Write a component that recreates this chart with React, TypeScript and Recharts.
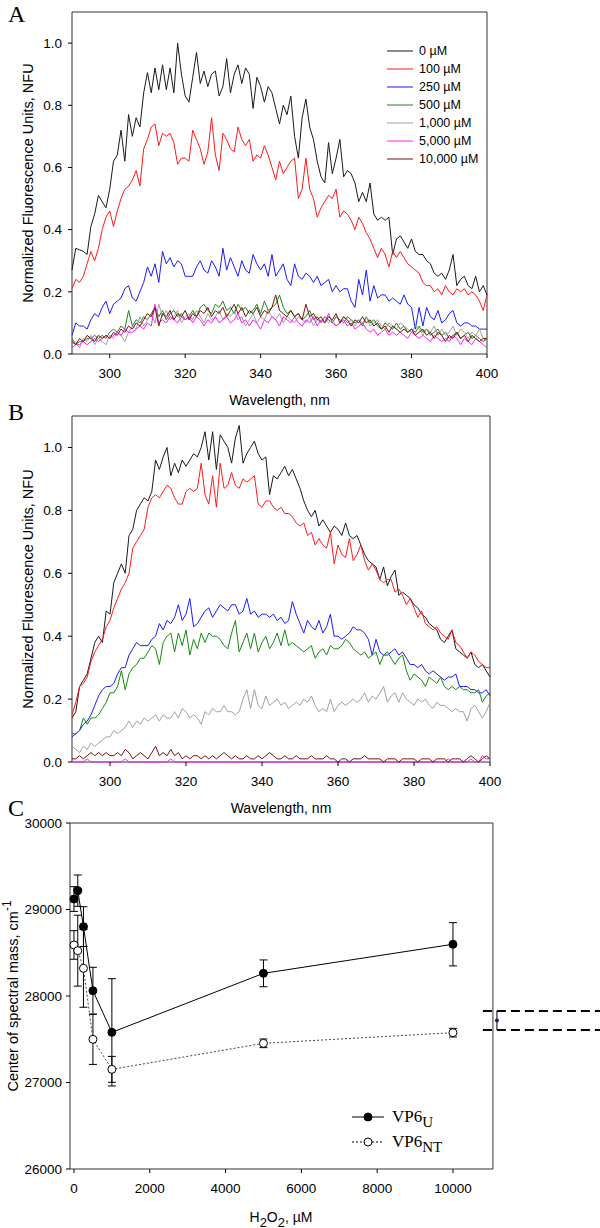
import React from "react";
import {
  ComposedChart,
  ErrorBar,
  Label,
  Legend,
  Line,
  LineChart,
  ReferenceArea,
  ReferenceLine,
  XAxis,
  YAxis,
} from "recharts";

const FONT = "'Liberation Sans', Arial, sans-serif";
const SERIF = "'Liberation Serif', 'Times New Roman', serif";

// wavelength grid, 1 nm steps
const wavelengths = Array.from({ length: 111 }, (_, i) => 290 + i);

const concLabels = ["0 µM", "100 µM", "250 µM", "500 µM", "1,000 µM", "5,000 µM", "10,000 µM"];
const concColors = ["#1a1a1a", "#ff1a1a", "#1a1aff", "#128a12", "#a0a0a0", "#ff1aff", "#7a1010"];

// Panel A spectra (NFU)
const a0 = [
  0.27, 0.34, 0.335, 0.33, 0.32, 0.41, 0.45, 0.51, 0.49, 0.47,
  0.53, 0.62, 0.64, 0.72, 0.62, 0.77, 0.7, 0.76, 0.73, 0.84,
  0.905, 0.84, 0.92, 0.85, 0.93, 0.85, 0.92, 0.84, 1.0, 0.9,
  0.83, 0.81, 0.89, 0.97, 0.87, 0.91, 0.86, 0.9, 0.91, 0.83,
  0.86, 0.95, 0.84, 0.9, 0.93, 0.87, 0.92, 0.9, 0.79, 0.89,
  0.86, 0.81, 0.86, 0.84, 0.79, 0.74, 0.8, 0.77, 0.83, 0.7,
  0.63, 0.76, 0.82, 0.73, 0.69, 0.62, 0.57, 0.55, 0.68, 0.58,
  0.63, 0.69, 0.57, 0.59, 0.58, 0.55, 0.49, 0.52, 0.49, 0.55,
  0.45, 0.43, 0.44, 0.43, 0.44, 0.32, 0.37, 0.38, 0.36, 0.34,
  0.37, 0.33, 0.32, 0.32, 0.3, 0.29, 0.26, 0.25, 0.26, 0.24,
  0.27, 0.32, 0.22, 0.24, 0.25, 0.22, 0.21, 0.25, 0.2, 0.22,
  0.19,
];
const a1 = [
  0.21, 0.24, 0.23, 0.25, 0.29, 0.33, 0.3, 0.34, 0.4, 0.44,
  0.46, 0.41, 0.46, 0.5, 0.53, 0.54, 0.56, 0.59, 0.54, 0.66,
  0.69, 0.73, 0.74, 0.67, 0.71, 0.7, 0.71, 0.68, 0.61, 0.63,
  0.63, 0.62, 0.72, 0.69, 0.66, 0.61, 0.65, 0.76, 0.64, 0.59,
  0.71, 0.69, 0.66, 0.65, 0.73, 0.69, 0.67, 0.69, 0.62, 0.64,
  0.63, 0.67, 0.64, 0.6, 0.56, 0.62, 0.58, 0.6, 0.62, 0.63,
  0.5, 0.53, 0.63, 0.53, 0.5, 0.44, 0.47, 0.49, 0.51, 0.5,
  0.53, 0.44, 0.46, 0.45, 0.43, 0.4, 0.44, 0.42, 0.39, 0.37,
  0.34, 0.31, 0.34, 0.32, 0.28, 0.33, 0.31, 0.33, 0.31, 0.29,
  0.28, 0.27, 0.26, 0.23, 0.22, 0.22, 0.2, 0.21, 0.19, 0.22,
  0.2, 0.19, 0.21, 0.2, 0.21, 0.19, 0.2, 0.19, 0.17, 0.14,
  0.19,
];
const a2 = [
  0.06, 0.1, 0.09, 0.09, 0.08, 0.11, 0.13, 0.12, 0.15, 0.17,
  0.13, 0.16, 0.17, 0.18, 0.21, 0.22, 0.18, 0.17, 0.2, 0.23,
  0.28, 0.25, 0.29, 0.23, 0.33, 0.29, 0.31, 0.28, 0.3, 0.29,
  0.25, 0.25, 0.25, 0.28, 0.3, 0.27, 0.26, 0.3, 0.28, 0.25,
  0.34, 0.27, 0.31, 0.28, 0.25, 0.3, 0.27, 0.26, 0.32, 0.29,
  0.27, 0.29, 0.25, 0.32, 0.25, 0.27, 0.29, 0.24, 0.22, 0.29,
  0.25, 0.24, 0.26, 0.25, 0.23, 0.25, 0.22, 0.23, 0.24, 0.2,
  0.22, 0.2, 0.21, 0.21, 0.17, 0.15, 0.24, 0.19, 0.27, 0.17,
  0.22, 0.18, 0.19, 0.19, 0.17, 0.18, 0.17, 0.16, 0.19, 0.16,
  0.15, 0.08, 0.15, 0.09, 0.15, 0.12, 0.11, 0.14, 0.1, 0.11,
  0.13, 0.14, 0.1, 0.09, 0.1, 0.1, 0.09, 0.09, 0.08, 0.08,
  0.08,
];
const a3 = [
  0.05, 0.03, 0.04, 0.04, 0.05, 0.05, 0.06, 0.05, 0.06, 0.05,
  0.07, 0.08, 0.07, 0.09, 0.08, 0.14, 0.09, 0.11, 0.1, 0.12,
  0.11, 0.13, 0.15, 0.12, 0.14, 0.11, 0.13, 0.14, 0.12, 0.13,
  0.11, 0.12, 0.14, 0.12, 0.15, 0.16, 0.14, 0.13, 0.16, 0.15,
  0.17, 0.14, 0.15, 0.13, 0.16, 0.14, 0.15, 0.13, 0.14, 0.16,
  0.13, 0.17, 0.14, 0.15, 0.16, 0.19, 0.15, 0.13, 0.14, 0.12,
  0.13, 0.11, 0.12, 0.14, 0.11, 0.12, 0.1, 0.12, 0.11, 0.1,
  0.12, 0.11, 0.1, 0.12, 0.11, 0.1, 0.11, 0.09, 0.12, 0.1,
  0.11, 0.09, 0.08, 0.1, 0.09, 0.08, 0.1, 0.08, 0.09, 0.07,
  0.08, 0.07, 0.09, 0.07, 0.08, 0.06, 0.07, 0.08, 0.06, 0.07,
  0.05, 0.06, 0.07, 0.05, 0.06, 0.07, 0.05, 0.06, 0.05, 0.04,
  0.05,
];
const a4 = [
  0.03, 0.04, 0.02, 0.05, 0.04, 0.06, 0.03, 0.05, 0.04, 0.03,
  0.06, 0.05, 0.07, 0.06, 0.04, 0.07, 0.09, 0.08, 0.12, 0.09,
  0.11, 0.13, 0.1, 0.16, 0.12, 0.14, 0.11, 0.12, 0.14, 0.1,
  0.12, 0.13, 0.11, 0.14, 0.12, 0.1, 0.13, 0.11, 0.12, 0.14,
  0.11, 0.13, 0.12, 0.14, 0.11, 0.12, 0.09, 0.11, 0.13, 0.1,
  0.12, 0.11, 0.14, 0.12, 0.11, 0.13, 0.1, 0.12, 0.11, 0.1,
  0.12, 0.11, 0.1, 0.12, 0.09, 0.11, 0.1, 0.12, 0.1, 0.11,
  0.09, 0.1, 0.12, 0.1, 0.11, 0.09, 0.11, 0.1, 0.12, 0.09,
  0.1, 0.11, 0.09, 0.08, 0.1, 0.09, 0.08, 0.1, 0.09, 0.08,
  0.07, 0.09, 0.08, 0.06, 0.08, 0.07, 0.09, 0.06, 0.08, 0.06,
  0.07, 0.09, 0.06, 0.08, 0.07, 0.05, 0.07, 0.06, 0.08, 0.05,
  0.04,
];
const a5 = [
  0.02, 0.03, 0.03, 0.04, 0.03, 0.04, 0.05, 0.04, 0.05, 0.06,
  0.05, 0.06, 0.07, 0.06, 0.08, 0.07, 0.07, 0.08, 0.09, 0.08,
  0.1, 0.09, 0.16, 0.1, 0.11, 0.1, 0.12, 0.11, 0.1, 0.12,
  0.11, 0.12, 0.1, 0.12, 0.11, 0.09, 0.11, 0.1, 0.12, 0.1,
  0.11, 0.12, 0.1, 0.11, 0.13, 0.1, 0.11, 0.09, 0.11, 0.1,
  0.08, 0.11, 0.1, 0.12, 0.11, 0.09, 0.12, 0.11, 0.1, 0.12,
  0.1, 0.09, 0.11, 0.1, 0.12, 0.09, 0.11, 0.1, 0.13, 0.1,
  0.09, 0.1, 0.11, 0.09, 0.1, 0.08, 0.09, 0.1, 0.08, 0.07,
  0.08, 0.06, 0.07, 0.08, 0.06, 0.07, 0.06, 0.07, 0.06, 0.05,
  0.07, 0.06, 0.05, 0.06, 0.05, 0.04, 0.06, 0.05, 0.04, 0.05,
  0.04, 0.06, 0.05, 0.03, 0.05, 0.04, 0.03, 0.05, 0.04, 0.03,
  0.02,
];
const a6 = [
  0.04, 0.03, 0.05, 0.04, 0.06, 0.05, 0.04, 0.06, 0.05, 0.06,
  0.05, 0.07, 0.06, 0.08, 0.07, 0.09, 0.08, 0.1, 0.09, 0.11,
  0.13, 0.12, 0.15, 0.09, 0.13, 0.12, 0.14, 0.11, 0.13, 0.12,
  0.14, 0.11, 0.13, 0.12, 0.14, 0.13, 0.15, 0.12, 0.14, 0.13,
  0.15, 0.12, 0.14, 0.16, 0.13, 0.15, 0.12, 0.14, 0.13, 0.15,
  0.12, 0.14, 0.13, 0.15, 0.19, 0.14, 0.13, 0.12, 0.14, 0.12,
  0.13, 0.11, 0.16, 0.12, 0.13, 0.11, 0.12, 0.1, 0.12, 0.11,
  0.13, 0.1, 0.12, 0.11, 0.09, 0.11, 0.1, 0.12, 0.1, 0.11,
  0.09, 0.1, 0.08, 0.09, 0.07, 0.09, 0.08, 0.07, 0.08, 0.07,
  0.08, 0.06, 0.07, 0.08, 0.06, 0.07, 0.05, 0.07, 0.06, 0.04,
  0.06, 0.05, 0.07, 0.05, 0.06, 0.04, 0.06, 0.05, 0.04, 0.05,
  0.05,
];

// Panel B spectra (NFU)
const b0 = [
  0.14, 0.16, 0.24, 0.26, 0.28, 0.33, 0.38, 0.4, 0.38, 0.48,
  0.47, 0.57, 0.6, 0.63, 0.6, 0.72, 0.74, 0.8, 0.82, 0.84,
  0.83, 0.86, 0.96, 0.93, 0.97, 1.0, 0.91, 0.95, 0.92, 0.96,
  0.94, 0.96, 0.98, 0.97, 1.0, 1.05, 0.96, 1.05, 0.93, 1.04,
  1.02, 1.0, 0.95, 1.03, 1.07, 0.95, 0.98, 1.0, 1.02, 0.98,
  0.96, 0.97, 0.85, 0.91, 0.9, 0.92, 0.94, 0.91, 0.93, 0.9,
  0.87, 0.83, 0.8, 0.78, 0.8, 0.75, 0.77, 0.75, 0.73, 0.75,
  0.74, 0.72, 0.76, 0.72, 0.71, 0.72, 0.69, 0.66, 0.64, 0.63,
  0.62, 0.58, 0.62, 0.56, 0.59, 0.61, 0.53, 0.54, 0.53, 0.52,
  0.5, 0.49, 0.47, 0.46, 0.44, 0.43, 0.42, 0.39, 0.38, 0.4,
  0.42, 0.36, 0.35, 0.34, 0.33, 0.35, 0.31, 0.3, 0.31, 0.29,
  0.27,
];
const b1 = [
  0.15, 0.19, 0.24, 0.25, 0.27, 0.32, 0.35, 0.37, 0.39, 0.43,
  0.45, 0.49, 0.52, 0.55, 0.57, 0.6, 0.68, 0.7, 0.72, 0.74,
  0.81, 0.84, 0.85, 0.84, 0.86, 0.88, 0.87, 0.84, 0.82, 0.82,
  0.86, 0.87, 0.86, 0.87, 0.95, 0.85, 0.82, 0.91, 0.81, 0.95,
  0.87, 0.88, 0.92, 0.88, 0.87, 0.9, 0.89, 0.9, 0.91, 0.82,
  0.81, 0.83, 0.83, 0.81, 0.8, 0.81, 0.79, 0.79, 0.78, 0.76,
  0.75, 0.76, 0.72, 0.73, 0.69, 0.71, 0.69, 0.68, 0.73, 0.63,
  0.69, 0.66, 0.65, 0.71, 0.64, 0.66, 0.69, 0.64, 0.61, 0.63,
  0.61, 0.58, 0.57, 0.58, 0.58, 0.54, 0.55, 0.53, 0.5, 0.52,
  0.49, 0.46, 0.48, 0.44, 0.43, 0.42, 0.43, 0.41, 0.4, 0.39,
  0.42, 0.38, 0.37, 0.35, 0.33, 0.35, 0.34, 0.32, 0.31, 0.3,
  0.3,
];
const b2 = [
  0.08, 0.09, 0.1, 0.12, 0.13, 0.15, 0.18, 0.21, 0.23, 0.24,
  0.24, 0.25, 0.28, 0.3, 0.3, 0.34, 0.36, 0.38, 0.37, 0.37,
  0.37, 0.39, 0.4, 0.44, 0.42, 0.45, 0.44, 0.46, 0.5, 0.45,
  0.47, 0.52, 0.43, 0.44, 0.46, 0.48, 0.49, 0.46, 0.48, 0.5,
  0.49, 0.48, 0.5, 0.5, 0.47, 0.48, 0.52, 0.47, 0.48, 0.46,
  0.47, 0.47, 0.46, 0.47, 0.45, 0.46, 0.44, 0.45, 0.51, 0.47,
  0.44, 0.41, 0.45, 0.43, 0.42, 0.45, 0.41, 0.43, 0.47, 0.4,
  0.4, 0.39, 0.4, 0.41, 0.43, 0.42, 0.42, 0.41, 0.39, 0.34,
  0.39, 0.35, 0.34, 0.34, 0.35, 0.36, 0.34, 0.35, 0.33, 0.31,
  0.31, 0.3, 0.31, 0.29, 0.28, 0.29, 0.28, 0.27, 0.26, 0.27,
  0.27, 0.28, 0.24, 0.24, 0.24, 0.23, 0.23, 0.22, 0.22, 0.23,
  0.21,
];
const b3 = [
  0.09, 0.09, 0.1, 0.14, 0.12, 0.14, 0.14, 0.15, 0.17, 0.19,
  0.22, 0.22, 0.24, 0.29, 0.23, 0.28, 0.3, 0.31, 0.33, 0.33,
  0.35, 0.37, 0.36, 0.31, 0.38, 0.4, 0.41, 0.35, 0.41, 0.37,
  0.42, 0.34, 0.39, 0.36, 0.41, 0.38, 0.41, 0.4, 0.4, 0.39,
  0.37, 0.36, 0.41, 0.45, 0.35, 0.38, 0.41, 0.36, 0.41, 0.35,
  0.38, 0.4, 0.36, 0.38, 0.41, 0.37, 0.42, 0.37, 0.38, 0.37,
  0.36, 0.35, 0.36, 0.37, 0.33, 0.35, 0.36, 0.34, 0.37, 0.36,
  0.36, 0.37, 0.39, 0.38, 0.36, 0.35, 0.34, 0.35, 0.33, 0.34,
  0.35, 0.31, 0.34, 0.35, 0.33, 0.31, 0.33, 0.34, 0.29, 0.26,
  0.28, 0.27, 0.26, 0.24, 0.27, 0.26, 0.25, 0.27, 0.24, 0.23,
  0.24, 0.23, 0.24, 0.23, 0.23, 0.22, 0.22, 0.23, 0.19, 0.21,
  0.22,
];
const b4 = [
  0.05, 0.04, 0.03, 0.05, 0.04, 0.06, 0.05, 0.06, 0.07, 0.08,
  0.08, 0.1, 0.09, 0.1, 0.11, 0.13, 0.11, 0.13, 0.12, 0.14,
  0.13, 0.14, 0.15, 0.13, 0.15, 0.14, 0.14, 0.16, 0.14, 0.17,
  0.16, 0.14, 0.15, 0.14, 0.12, 0.16, 0.15, 0.17, 0.16, 0.16,
  0.18, 0.16, 0.16, 0.15, 0.16, 0.2, 0.23, 0.17, 0.23, 0.18,
  0.17, 0.21, 0.18, 0.19, 0.2, 0.18, 0.19, 0.17, 0.18, 0.19,
  0.18, 0.2, 0.19, 0.21, 0.18, 0.16, 0.17, 0.16, 0.2, 0.16,
  0.18, 0.19, 0.18, 0.19, 0.2, 0.19, 0.2, 0.22, 0.19, 0.21,
  0.2, 0.22, 0.24, 0.19, 0.21, 0.22, 0.19, 0.22, 0.2, 0.19,
  0.18, 0.2, 0.19, 0.2, 0.18, 0.17, 0.19, 0.18, 0.18, 0.17,
  0.16, 0.17, 0.16, 0.16, 0.13, 0.17, 0.18, 0.16, 0.14, 0.16,
  0.19,
];
const b5 = [
  0, 0, 0, 0, 0.01, 0, 0, 0, 0, 0,
  0, 0, 0, 0, 0.01, 0, 0, 0, 0, 0,
  0, 0, 0, 0, 0, 0, 0.01, 0, 0, 0,
  0, 0, 0, 0, 0, 0, 0, 0, 0, 0,
  0, 0, 0, 0, 0, 0, 0, 0, 0, 0,
  0, 0, 0, 0, 0, 0, 0, 0, 0, 0,
  0, 0, 0, 0, 0, 0, 0, 0, 0, 0,
  0, 0, 0, 0, 0, 0, 0, 0, 0, 0,
  0, 0, 0, 0, 0, 0, 0, 0, 0, 0,
  0, 0, 0, 0, 0, 0, 0, 0, 0, 0.01,
  0, 0, 0, 0, 0, 0.01, 0, 0, 0.02, 0.01,
  0.01,
];
const b6 = [
  0.01, 0.01, 0.02, 0.01, 0.02, 0.03, 0.02, 0.03, 0.02, 0.03,
  0.02, 0.02, 0.03, 0.02, 0.04, 0.03, 0.01, 0.02, 0.03, 0.02,
  0.01, 0.03, 0.05, 0.02, 0.03, 0.02, 0.04, 0.02, 0.03, 0.01,
  0.02, 0.01, 0.02, 0.02, 0.01, 0.02, 0.01, 0.02, 0.01, 0.02,
  0.03, 0.02, 0.01, 0.02, 0.01, 0.01, 0.02, 0.01, 0.01, 0.02,
  0.01, 0.02, 0.03, 0.02, 0.01, 0.01, 0.02, 0.01, 0.01, 0.02,
  0.01, 0.01, 0.01, 0.02, 0.01, 0.01, 0.01, 0.02, 0.01, 0.01,
  0, 0.01, 0.01, 0, 0.01, 0.01, 0.01, 0.02, 0.01, 0.01,
  0.01, 0.01, 0, 0.01, 0.01, 0.01, 0, 0.01, 0.01, 0.01,
  0.01, 0, 0.01, 0.01, 0.01, 0, 0.01, 0.01, 0.01, 0,
  0.01, 0.01, 0.01, 0, 0.01, 0.02, 0.01, 0, 0.01, 0.02,
  0.01,
];

const seriesA = [a0, a1, a2, a3, a4, a5, a6];
const seriesB = [b0, b1, b2, b3, b4, b5, b6];

const dataA = wavelengths.map((wl, i) => {
  const row: Record<string, number> = { wl };
  seriesA.forEach((s, k) => (row["c" + k] = s[i]));
  return row;
});
const dataB = wavelengths.map((wl, i) => {
  const row: Record<string, number> = { wl };
  seriesB.forEach((s, k) => (row["c" + k] = s[i]));
  return row;
});

// Panel C: center of spectral mass vs H2O2
const h2o2 = [0, 100, 250, 500, 1000, 5000, 10000];
const vp6uMean = [29121, 29218, 28802, 28061, 27580, 28262, 28598];
const vp6uErr = [143, 181, 230, 271, 620, 155, 250];
const vp6ntMean = [28590, 28524, 28320, 27499, 27152, 27453, 27576];
const vp6ntErr = [165, 410, 450, 290, 150, 50, 50];
const refX = [11160];
const refMean = [27717];
const refErr = [110];

const uData = h2o2.map((x, i) => ({ x, y: vp6uMean[i], err: vp6uErr[i] }));
const ntData = h2o2.map((x, i) => ({ x, y: vp6ntMean[i], err: vp6ntErr[i] }));
const refData = refX.map((x, i) => ({ x, y: refMean[i], err: refErr[i] }));

const tickStyle = { fontSize: 13.5, fill: "#000", fontFamily: FONT };

const yTitle = (text: string, dx: number) => (props: any) => {
  const vb = props.viewBox || {};
  const cx = (vb.x || 0) + dx;
  const cy = (vb.y || 0) + (vb.height || 0) / 2;
  return (
    <text
      x={cx}
      y={cy}
      transform={`rotate(-90 ${cx} ${cy})`}
      textAnchor="middle"
      dominantBaseline="central"
      fontFamily={FONT}
      fontSize={14.5}
      fill="#000"
    >
      {text}
    </text>
  );
};

const xTitle = (text: string, dy: number) => (props: any) => {
  const vb = props.viewBox || {};
  const cx = (vb.x || 0) + (vb.width || 0) / 2;
  const cy = (vb.y || 0) + dy;
  return (
    <text x={cx} y={cy} textAnchor="middle" dominantBaseline="central" fontFamily={FONT} fontSize={14} fill="#000">
      {text}
    </text>
  );
};

const LegendA = () => (
  <div style={{ fontFamily: FONT, fontSize: 12.5, color: "#000" }}>
    {concLabels.map((l, i) => (
      <div key={l} style={{ display: "flex", alignItems: "center", height: 18 }}>
        <svg width={26} height={4}>
          <line x1={0} y1={2} x2={26} y2={2} stroke={concColors[i]} strokeWidth={1} />
        </svg>
        <span style={{ marginLeft: 6, whiteSpace: "nowrap" }}>{l}</span>
      </div>
    ))}
  </div>
);

const LegendC = () => {
  const rows = [
    { sub: "U", dash: undefined, fill: "#000" },
    { sub: "NT", dash: "2 2", fill: "#fff" },
  ];
  return (
    <div style={{ fontFamily: SERIF, fontSize: 17, color: "#000" }}>
      {rows.map((r) => (
        <div key={r.sub} style={{ display: "flex", alignItems: "center", height: 25 }}>
          <svg width={32} height={12}>
            <line x1={0} y1={6} x2={32} y2={6} stroke="#000" strokeDasharray={r.dash} />
            <circle cx={16} cy={6} r={4} fill={r.fill} stroke="#000" />
          </svg>
          <span style={{ marginLeft: 8, whiteSpace: "nowrap" }}>
            VP6
            <span style={{ fontSize: 15, position: "relative", top: 5 }}>{r.sub}</span>
          </span>
        </div>
      ))}
    </div>
  );
};

const SpectraPanel = ({ data, marginRight, xAxisHeight, legend }: any) => (
  <LineChart
    width={600}
    height={420}
    data={data}
    margin={{ top: 12, right: marginRight, left: 0, bottom: 10 }}
  >
    <XAxis
      type="number"
      dataKey="wl"
      domain={[290, 400]}
      ticks={[300, 320, 340, 360, 380, 400]}
      axisLine={false}
      tickLine={{ stroke: "#000" }}
      tickSize={4}
      tickMargin={10}
      tick={tickStyle}
      height={xAxisHeight}
    >
      <Label content={xTitle("Wavelength, nm", 46)} />
    </XAxis>
    <YAxis
      type="number"
      domain={[0, 1.1]}
      ticks={[0, 0.2, 0.4, 0.6, 0.8, 1.0]}
      tickFormatter={(v: number) => v.toFixed(1)}
      axisLine={false}
      tickLine={{ stroke: "#000" }}
      tickSize={4}
      tickMargin={6}
      tick={tickStyle}
      width={72}
    >
      <Label content={yTitle("Normalized Fluorescence Units, NFU", 28)} />
    </YAxis>
    <ReferenceArea x1={290} x2={400} y1={0} y2={1.1} fill="none" stroke="#333" strokeWidth={1} />
    {concLabels.map((l, k) => (
      <Line
        key={l}
        dataKey={"c" + k}
        name={l}
        stroke={concColors[k]}
        strokeWidth={1}
        dot={false}
        activeDot={false}
        isAnimationActive={false}
      />
    ))}
    {legend && (
      <Legend
        layout="vertical"
        align="center"
        verticalAlign="middle"
        content={() => <LegendA />}
        wrapperStyle={{ left: 387, top: 42, width: 120 }}
      />
    )}
  </LineChart>
);

const cYTitle = (props: any) => {
  const vb = props.viewBox || {};
  const cx = (vb.x || 0) + 13;
  const cy = (vb.y || 0) + (vb.height || 0) / 2;
  return (
    <text
      x={cx}
      y={cy}
      transform={`rotate(-90 ${cx} ${cy})`}
      textAnchor="middle"
      dominantBaseline="central"
      fontFamily={FONT}
      fontSize={14.5}
      fill="#000"
    >
      Center of spectral mass, cm
      <tspan dy={-6} fontSize={12}>
        -1
      </tspan>
    </text>
  );
};

const cXTitle = (props: any) => {
  const vb = props.viewBox || {};
  const cx = (vb.x || 0) + 211;
  const cy = (vb.y || 0) + 48;
  return (
    <text x={cx} y={cy} textAnchor="middle" dominantBaseline="central" fontFamily={FONT} fontSize={14} fill="#000">
      H
      <tspan dy={5} fontSize={13}>
        2
      </tspan>
      <tspan dy={-5}>O</tspan>
      <tspan dy={5} fontSize={13}>
        2
      </tspan>
      <tspan dy={-5}>, µM</tspan>
    </text>
  );
};

const PanelC = () => (
  <ComposedChart width={600} height={414} margin={{ top: 9, right: 0, left: 0, bottom: 0 }}>
    <XAxis
      type="number"
      dataKey="x"
      domain={[-105, 13880]}
      ticks={[0, 2000, 4000, 6000, 8000, 10000]}
      axisLine={false}
      tickLine={{ stroke: "#000" }}
      tickSize={4}
      tickMargin={10}
      tick={tickStyle}
      height={59}
    >
      <Label content={cXTitle} />
    </XAxis>
    <YAxis
      type="number"
      dataKey="y"
      domain={[26000, 30000]}
      ticks={[26000, 27000, 28000, 29000, 30000]}
      axisLine={false}
      tickLine={{ stroke: "#000" }}
      tickSize={4}
      tickMargin={4}
      tick={tickStyle}
      width={70}
    >
      <Label content={cYTitle} />
    </YAxis>
    <ReferenceArea x1={-105} x2={11055} y1={26000} y2={30000} fill="none" stroke="#333" strokeWidth={1} />
    <ReferenceLine
      segment={[
        { x: 10790, y: refMean[0] + refErr[0] },
        { x: 13880, y: refMean[0] + refErr[0] },
      ]}
      stroke="#000"
      strokeWidth={2}
      strokeDasharray="9 5"
    />
    <ReferenceLine
      segment={[
        { x: 10790, y: refMean[0] - refErr[0] },
        { x: 13880, y: refMean[0] - refErr[0] },
      ]}
      stroke="#000"
      strokeWidth={2}
      strokeDasharray="9 5"
    />
    <Line
      data={ntData}
      dataKey="y"
      name="VP6NT"
      stroke="#444"
      strokeWidth={1}
      strokeDasharray="2 2"
      dot={{ r: 4, fill: "#fff", stroke: "#000", strokeWidth: 1, strokeDasharray: "" }}
      activeDot={false}
      isAnimationActive={false}
    >
      <ErrorBar dataKey="err" direction="y" width={4} stroke="#000" strokeWidth={1} />
    </Line>
    <Line
      data={uData}
      dataKey="y"
      name="VP6U"
      stroke="#000"
      strokeWidth={1}
      dot={{ r: 4, fill: "#000", stroke: "#000", strokeWidth: 1 }}
      activeDot={false}
      isAnimationActive={false}
    >
      <ErrorBar dataKey="err" direction="y" width={4} stroke="#000" strokeWidth={1} />
    </Line>
    <Line
      data={refData}
      dataKey="y"
      stroke="none"
      dot={{ r: 2, fill: "#1c2450", stroke: "none" }}
      activeDot={false}
      isAnimationActive={false}
    >
      <ErrorBar dataKey="err" direction="y" width={0} stroke="#000" strokeWidth={1} />
    </Line>
    <Legend
      layout="vertical"
      align="center"
      verticalAlign="middle"
      content={() => <LegendC />}
      wrapperStyle={{ left: 352, top: 290, width: 120 }}
    />
  </ComposedChart>
);

const letterStyle: React.CSSProperties = {
  position: "absolute",
  left: 8,
  fontFamily: SERIF,
  fontSize: 24,
  lineHeight: 1,
  color: "#000",
};

export default function App() {
  return (
    <div style={{ position: "relative", width: 600, height: 1228, background: "#fff" }}>
      <style>{"body{margin:0;background:#fff}"}</style>
      <div style={{ position: "absolute", left: 0, top: 0 }}>
        <SpectraPanel data={dataA} marginRight={113} xAxisHeight={56} legend />
      </div>
      <div style={{ position: "absolute", left: 0, top: 404 }}>
        <SpectraPanel data={dataB} marginRight={110} xAxisHeight={52} legend={false} />
      </div>
      <div style={{ position: "absolute", left: 0, top: 814 }}>
        <PanelC />
      </div>
      <div style={{ ...letterStyle, top: 2 }}>A</div>
      <div style={{ ...letterStyle, top: 400 }}>B</div>
      <div style={{ ...letterStyle, top: 796 }}>C</div>
    </div>
  );
}
